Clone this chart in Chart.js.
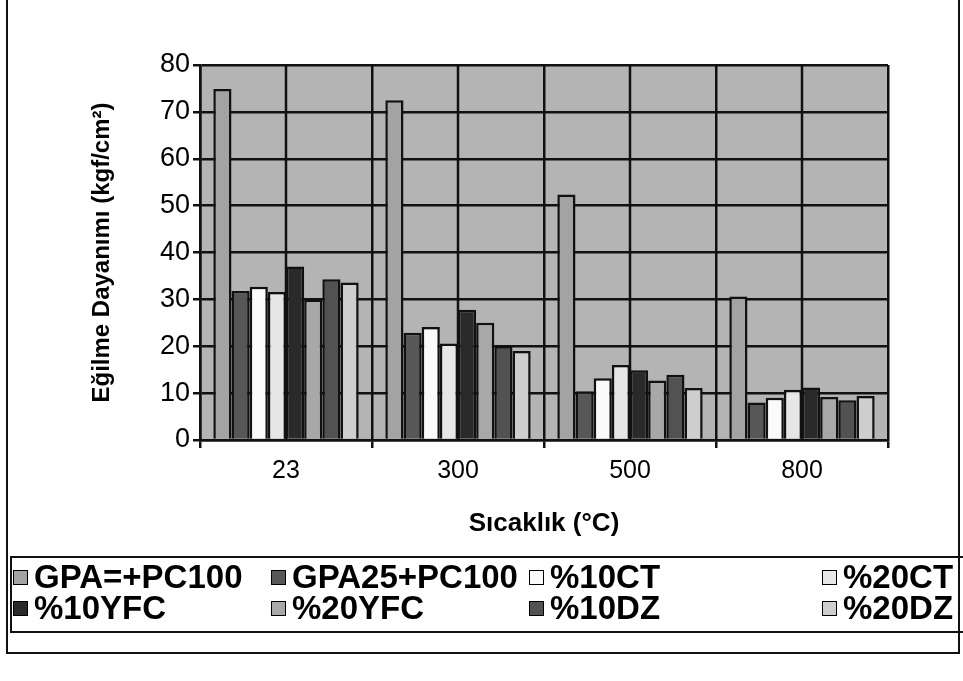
<!DOCTYPE html>
<html>
<head>
<meta charset="utf-8">
<title>Eğilme Dayanımı</title>
<script src="https://cdn.jsdelivr.net/npm/chart.js@4.4.0/dist/chart.umd.min.js"></script>
<style>
  body { margin: 0; background: #fff; }
  #wrap { position: relative; width: 963px; height: 681px; overflow: hidden; font-family: "Liberation Sans", Arial, sans-serif; }
  #chartBox { position: absolute; left: 0; top: 0; width: 963px; height: 681px; }
  #frame { position: absolute; left: 6px; top: -4px; width: 950px; height: 654px; border: 2px solid #111; }
  #legend { position: absolute; left: 10px; top: 556px; width: 970px; height: 73px; border: 2px solid #111; }
  .item { position: absolute; display: flex; align-items: center; font-weight: bold; font-size: 33px; color: #000; white-space: nowrap; height: 34px; }
  .swatch { width: 13px; height: 13px; border: 1.5px solid #000; margin-right: 6px; }
</style>
</head>
<body>
<div id="wrap">
  <div id="frame"></div>
  <div id="chartBox"><canvas id="egilme"></canvas></div>
  <div id="legend"></div>
</div>
<script>
// sıcaklık kategorileri ve seri adları
const categories = ['23', '300', '500', '800'];
const seriesNames = ['GPA=+PC100', 'GPA25+PC100', '%10CT', '%20CT', '%10YFC', '%20YFC', '%10DZ', '%20DZ'];

// eğilme dayanımı (kgf/cm2), her seri için
const gpaPc100   = [74.9, 72.5, 52.4, 30.6];
const gpa25Pc100 = [31.8, 22.9, 10.4, 8.0];
const ct10       = [32.7, 24.1, 13.2, 9.0];
const ct20       = [31.6, 20.6, 16.0, 10.7];
const yfc10      = [37.0, 27.8, 14.9, 11.2];
const yfc20      = [30.0, 25.0, 12.7, 9.2];
const dz10       = [34.3, 20.0, 13.9, 8.5];
const dz20       = [33.6, 19.0, 11.1, 9.4];

// y ekseni
const yMin = 0;
const yMax = 80;
const yStep = 10;

const seriesValues = [gpaPc100, gpa25Pc100, ct10, ct20, yfc10, yfc20, dz10, dz20];
const fills = ['#a3a3a3', '#575757', '#fafafa', '#e6e6e6', '#2a2a2a', '#a8a8a8', '#525252', '#cecece'];

Chart.defaults.font.family = '"Liberation Sans", Arial, sans-serif';
Chart.defaults.color = '#000';

// gri çizim alanı
const plotBackground = {
  id: 'plotBackground',
  beforeDraw(chart) {
    const { ctx, chartArea: a } = chart;
    ctx.save();
    ctx.fillStyle = '#b4b4b4';
    ctx.fillRect(a.left, a.top, a.width, a.height);
    ctx.restore();
  }
};

// kategori ortalarındaki dikey çizgiler
const midLines = {
  id: 'midLines',
  beforeDatasetsDraw(chart) {
    const { ctx, chartArea: a, scales: { x } } = chart;
    ctx.save();
    ctx.strokeStyle = '#111';
    ctx.lineWidth = 2.5;
    categories.forEach((c, i) => {
      const px = x.getPixelForValue(i);
      ctx.beginPath();
      ctx.moveTo(px, a.top);
      ctx.lineTo(px, a.bottom);
      ctx.stroke();
    });
    ctx.restore();
  }
};

const ctx = document.getElementById('egilme').getContext('2d');
const chart = new Chart(ctx, {
  type: 'bar',
  data: {
    labels: categories,
    datasets: seriesNames.map((name, i) => ({
      label: name,
      data: seriesValues[i],
      backgroundColor: fills[i],
      borderColor: '#111',
      borderWidth: 2.5,
      categoryPercentage: 0.845,
      barPercentage: 1.0
    }))
  },
  options: {
    responsive: true,
    maintainAspectRatio: false,
    animation: false,
    layout: { padding: { left: 0, top: 65, right: 75, bottom: 141 } },
    plugins: {
      legend: { display: false },
      tooltip: { enabled: false }
    },
    scales: {
      x: {
        grid: { offset: true, color: '#111', lineWidth: 2.5, tickLength: 8 },
        border: { color: '#111', width: 2.5 },
        ticks: { font: { size: 25 }, padding: 8, maxRotation: 0 },
        title: {
          display: true,
          text: 'Sıcaklık (°C)',
          font: { size: 26, weight: 'bold' },
          padding: { top: 0, bottom: 1 }
        },
        afterFit(scale) { scale.height = 100; }
      },
      y: {
        min: yMin,
        max: yMax,
        ticks: { stepSize: yStep, font: { size: 27 }, padding: 3 },
        grid: { color: '#111', lineWidth: 2.5, tickLength: 7 },
        border: { color: '#111', width: 2.5 },
        title: {
          display: true,
          text: 'Eğilme Dayanımı (kgf/cm²)',
          font: { size: 24, weight: 'bold' },
          padding: { top: 88, bottom: 0 }
        },
        afterFit(scale) { scale.width = 200; }
      }
    }
  },
  plugins: [plotBackground, midLines]
});

// lejant: dört sütun, iki satır
const legendEl = document.getElementById('legend');
const colLeft = [1, 259, 517, 810];
const rowTop = [2, 33];
chart.data.datasets.forEach((ds, i) => {
  const item = document.createElement('div');
  item.className = 'item';
  item.style.left = colLeft[i % 4] + 'px';
  item.style.top = rowTop[Math.floor(i / 4)] + 'px';
  const sw = document.createElement('span');
  sw.className = 'swatch';
  sw.style.background = ds.backgroundColor;
  const txt = document.createElement('span');
  txt.textContent = ds.label;
  item.appendChild(sw);
  item.appendChild(txt);
  legendEl.appendChild(item);
});
</script>
</body>
</html>
